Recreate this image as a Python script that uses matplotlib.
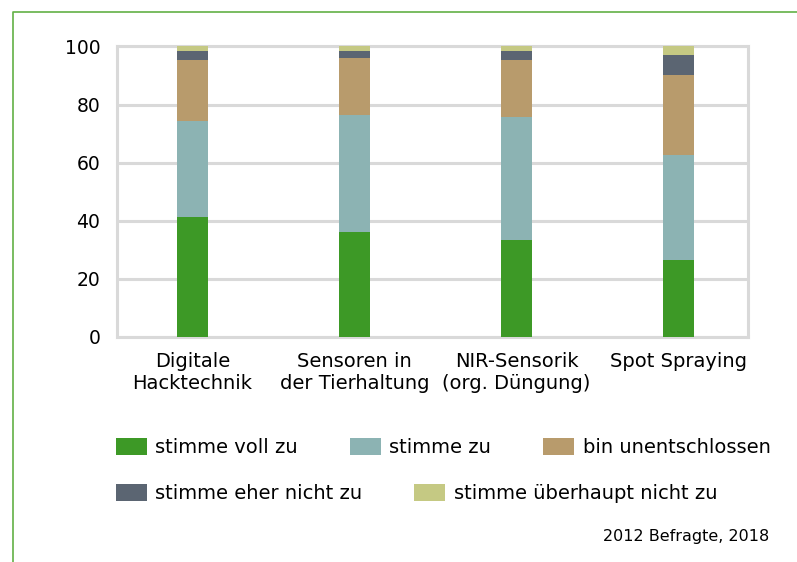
import numpy as np
import matplotlib
matplotlib.use('Agg')
import matplotlib.pyplot as plt
from matplotlib.lines import Line2D

# Umfrage: Zustimmung zu digitalen Techniken (Anteile in %)
categories = ['Digitale\nHacktechnik', 'Sensoren in\nder Tierhaltung',
              'NIR-Sensorik\n(org. Düngung)', 'Spot Spraying']
series_names = ['stimme voll zu', 'stimme zu', 'bin unentschlossen',
                'stimme eher nicht zu', 'stimme überhaupt nicht zu']
voll_zu = [41.3, 36.1, 33.4, 26.5]
zu = [33.2, 40.4, 42.2, 36.2]
unentschlossen = [20.7, 19.4, 19.6, 27.6]
eher_nicht = [3.1, 2.4, 3.1, 6.9]
gar_nicht = [1.7, 1.7, 1.7, 2.8]
yticks = [0, 20, 40, 60, 80, 100]
source = '2012 Befragte, 2018'

colors = ['#3d9926', '#8cb3b3', '#b89b6c', '#5b6572', '#c5c983']
grid_col = '#d9d9d9'

plt.rcParams['font.family'] = ['DejaVu Sans']

fig = plt.figure(figsize=(7.97, 5.62), dpi=100)
ax = fig.add_axes([0.1468, 0.4004, 0.7917, 0.5169])

x = np.arange(len(categories))
bottom = np.zeros(len(categories))
bars = []
for vals, col, name in zip([voll_zu, zu, unentschlossen, eher_nicht, gar_nicht],
                           colors, series_names):
    b = ax.bar(x, vals, width=0.191, bottom=bottom, color=col, label=name,
               zorder=3, linewidth=0)
    bars.append(b)
    bottom += np.array(vals)

ax.set_xlim(-0.465, 3.427)
ax.set_ylim(0, 100)
ax.set_yticks(yticks)
ax.set_xticks(x)
ax.set_xticklabels(categories, fontsize=14, linespacing=1.15)
ax.tick_params(axis='y', length=0, pad=12, labelsize=13.5)
ax.tick_params(axis='x', length=0, pad=11)
ax.grid(axis='y', color=grid_col, linewidth=2.2, zorder=0)
for s in ax.spines.values():
    s.set_color(grid_col)
    s.set_linewidth(2.2)

# Legende in zwei Zeilen
leg_kw = dict(frameon=False, fontsize=14, handlelength=1.6, handleheight=0.95,
              handletextpad=0.45, columnspacing=2.65, borderpad=0,
              borderaxespad=0, loc='center left')
fig.legend(handles=bars[:3], labels=series_names[:3], ncol=3,
           bbox_to_anchor=(115.5 / 797, 1 - 447.5 / 562), **leg_kw)
fig.legend(handles=bars[3:], labels=series_names[3:], ncol=2,
           bbox_to_anchor=(115.5 / 797, 1 - 493.5 / 562), **leg_kw)

fig.text(769 / 797, 1 - 537 / 562, source, ha='right', va='center', fontsize=11.5)

# gruener Rahmen oben und links
fig.add_artist(Line2D([12.5 / 797, 12.5 / 797, 1], [0, 1 - 11.5 / 562, 1 - 11.5 / 562],
                      transform=fig.transFigure, color='#62b045', linewidth=1.2))

fig.savefig('out.png', dpi=100)
